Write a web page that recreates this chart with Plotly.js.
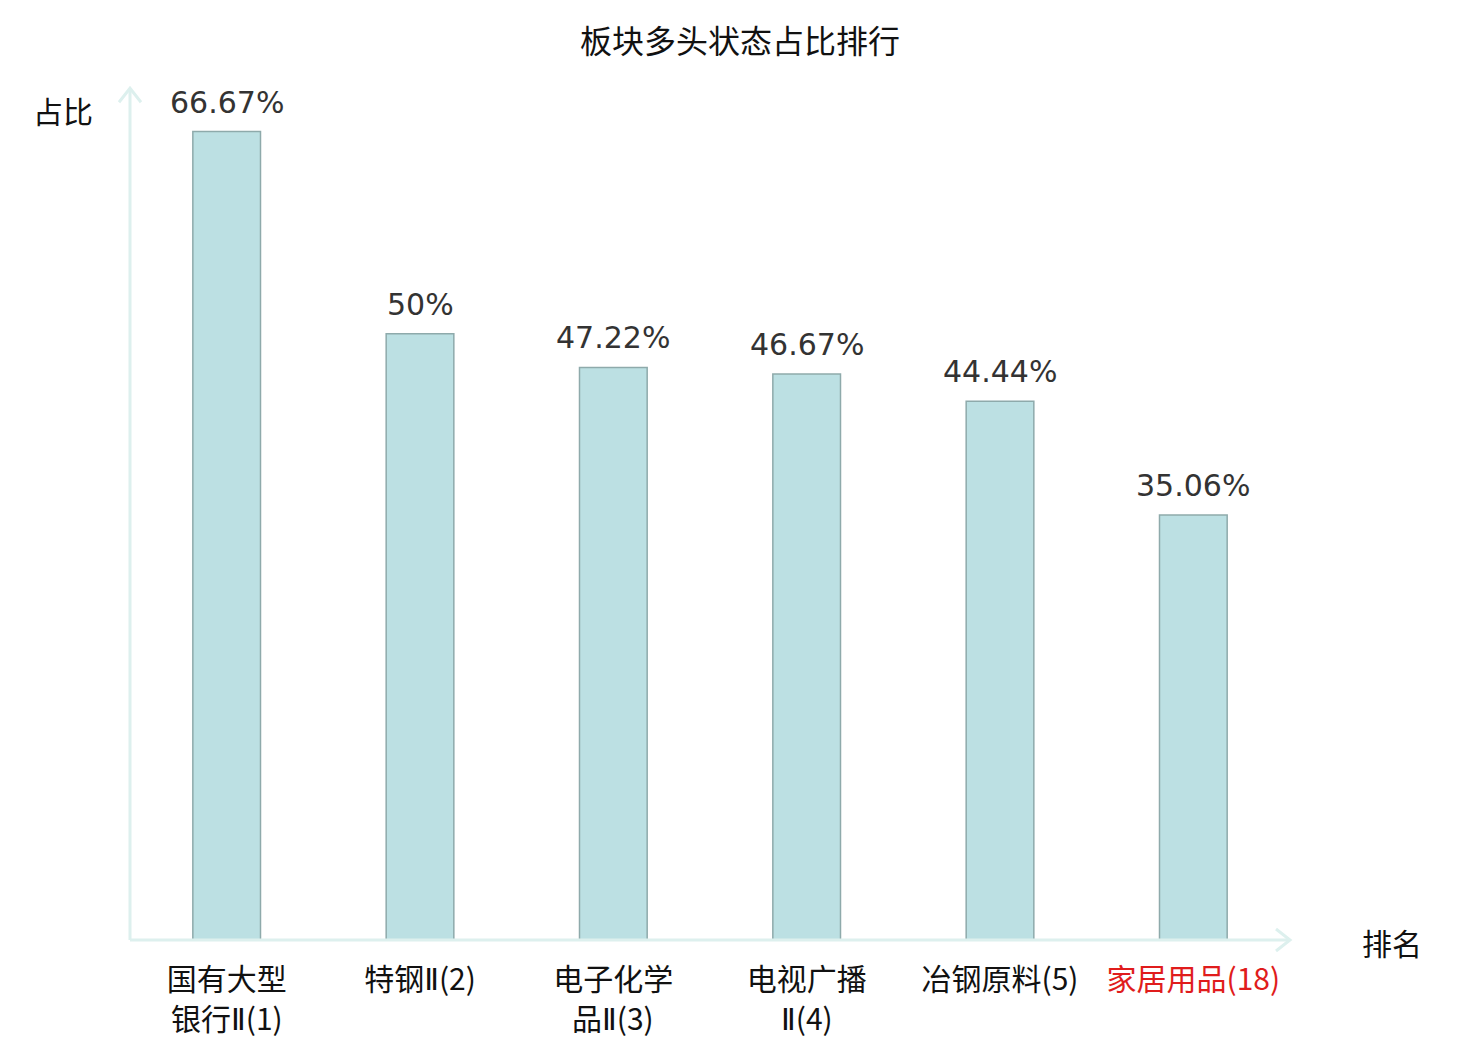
<!DOCTYPE html>
<html>
<head>
<meta charset="utf-8">
<script src="https://cdn.plot.ly/plotly-3.0.1.min.js"></script>
<style>
  html, body { margin: 0; padding: 0; background: #fff; }
  #chart { width: 1480px; height: 1040px; }
</style>
</head>
<body>
<div id="chart"></div>
<script>
// 板块多头状态占比排行
// each category name is split over two lines as in the original chart
const nameLine1 = ['国有大型', '特钢Ⅱ(2)', '电子化学', '电视广播', '冶钢原料(5)', '家居用品(18)'];
const nameLine2 = ['银行Ⅱ(1)', '', '品Ⅱ(3)', 'Ⅱ(4)', '', ''];
const shares = [66.67, 50, 47.22, 46.67, 44.44, 35.06];
const highlight = [false, false, false, false, false, true];

const cjk = '"Noto Sans CJK SC", "Noto Sans", sans-serif';
const latin = '"DejaVu Sans", sans-serif';
const axisColor = '#ddf0ee';
const redColor = '#e01c1c';

// roman numeral looks narrow in the original, use DejaVu for it
function fmtName(s, i) {
    let t = s.replace(/Ⅱ/g, '<span style="font-family:DejaVu Sans">Ⅱ</span>');
    if (highlight[i] && t) t = '<span style="color:' + redColor + '">' + t + '</span>';
    return t;
}

const idx = shares.map((v, i) => i);

const trace = {
    x: idx,
    y: shares,
    type: 'bar',
    width: 0.35,
    marker: {
        color: '#bce0e3',
        line: { color: '#8eaaab', width: 1.5 }
    },
    hoverinfo: 'skip'
};

// value labels above bars
const valueLabels = shares.map((v, i) => ({
    text: v + '%',
    x: i, y: v, xref: 'x', yref: 'y',
    xanchor: 'center', yanchor: 'bottom', yshift: 10,
    showarrow: false,
    font: { family: latin, size: 30, color: '#333333' }
}));

// second line of category names
const secondLines = nameLine2.map((s, i) => ({
    text: fmtName(s, i),
    x: i, y: 0, xref: 'x', yref: 'paper',
    xanchor: 'center', yanchor: 'middle', yshift: -77,
    showarrow: false,
    font: { family: cjk, size: 30, color: '#111111' }
})).filter(a => a.text);

const layout = {
    width: 1480,
    height: 1040,
    paper_bgcolor: '#ffffff',
    plot_bgcolor: '#ffffff',
    margin: { t: 90, b: 100, l: 130, r: 190 },
    showlegend: false,
    font: { family: cjk, color: '#111111' },
    title: {
        text: '板块多头状态占比排行',
        font: { family: cjk, size: 32, color: '#111111' },
        x: 0.5, xanchor: 'center',
        y: 1 - 42 / 1040, yanchor: 'middle', yref: 'container'
    },
    xaxis: {
        range: [-0.5, 5.5],
        tickmode: 'array',
        tickvals: idx,
        ticktext: nameLine1.map(fmtName),
        tickfont: { family: cjk, size: 30, color: '#111111' },
        ticklabelstandoff: 19,
        ticks: '',
        showgrid: false,
        zeroline: false,
        showline: false,
        fixedrange: true
    },
    yaxis: {
        range: [0, 70.1],
        showticklabels: false,
        ticks: '',
        showgrid: false,
        zeroline: false,
        showline: false,
        fixedrange: true
    },
    shapes: [
        // axis lines
        { type: 'line', xref: 'paper', yref: 'paper', x0: 0, x1: 0, y0: 0, y1: 1.002,
          line: { color: axisColor, width: 3 } },
        { type: 'line', xref: 'paper', yref: 'paper', x0: 0, x1: 1, y0: 0, y1: 0,
          line: { color: axisColor, width: 3 } },
        // arrow heads
        { type: 'path', xref: 'paper', yref: 'paper', xsizemode: 'pixel', ysizemode: 'pixel',
          xanchor: 0, yanchor: 1.002, path: 'M -11 -14 L 0 0 L 11 -14',
          line: { color: axisColor, width: 3 } },
        { type: 'path', xref: 'paper', yref: 'paper', xsizemode: 'pixel', ysizemode: 'pixel',
          xanchor: 1, yanchor: 0, path: 'M -14 11 L 0 0 L -14 -11',
          line: { color: axisColor, width: 3 } }
    ],
    annotations: [
        { text: '占比', xref: 'paper', yref: 'paper', x: (63 - 130) / 1160, y: (940 - 110) / 850,
          xanchor: 'center', yanchor: 'middle', showarrow: false,
          font: { family: cjk, size: 30, color: '#111111' } },
        { text: '排名', xref: 'paper', yref: 'paper', x: (1392 - 130) / 1160, y: (940 - 942) / 850,
          xanchor: 'center', yanchor: 'middle', showarrow: false,
          font: { family: cjk, size: 30, color: '#111111' } }
    ].concat(valueLabels, secondLines)
};

Plotly.newPlot('chart', [trace], layout, { displayModeBar: false, staticPlot: true });
</script>
</body>
</html>
